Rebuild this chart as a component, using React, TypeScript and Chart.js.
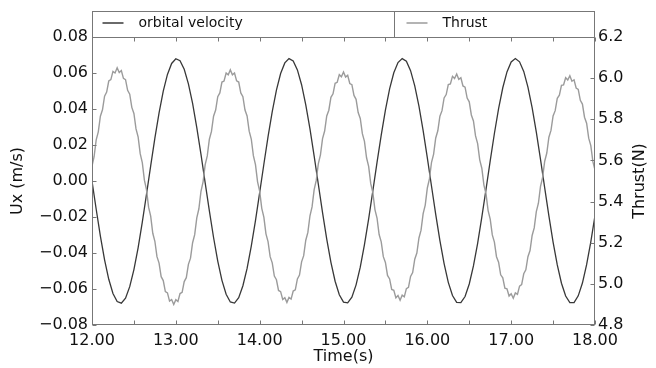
import React, { useEffect, useRef } from 'react';
import { Chart, registerables } from 'chart.js';

Chart.register(...registerables);

// ---- data ----
const T_START = 12;
const VELOCITY_STEP = 0.05; // s between orbital velocity samples
const THRUST_STEP = 0.025; // s between thrust samples

const seriesNames = ['orbital velocity', 'Thrust'];
const axisTitles = { x: 'Time(s)', y: 'Ux (m/s)', y2: 'Thrust(N)' };

const orbitalVelocity = [
  0, -0.0157, -0.0306, -0.0438, -0.0546, -0.0625, -0.067, -0.0679, -0.0651, -0.0587,
  -0.0492, -0.0371, -0.0229, -0.0074, 0.0084, 0.0238, 0.0378, 0.0499, 0.0592, 0.0653,
  0.0679, 0.0668, 0.0621, 0.054, 0.0431, 0.0297, 0.0148, -0.001, -0.0166, -0.0314,
  -0.0445, -0.0552, -0.0629, -0.0672, -0.0678, -0.0648, -0.0582, -0.0486, -0.0362, -0.022,
  -0.0065, 0.0093, 0.0246, 0.0386, 0.0505, 0.0597, 0.0656, 0.068, 0.0667, 0.0617,
  0.0535, 0.0423, 0.0289, 0.0138, -0.0019, -0.0176, -0.0323, -0.0452, -0.0557, -0.0632,
  -0.0673, -0.0677, -0.0645, -0.0577, -0.0479, -0.0354, -0.021, -0.0055, 0.0103, 0.0255,
  0.0394, 0.0512, 0.0601, 0.0658, 0.068, 0.0665, 0.0613, 0.0529, 0.0416, 0.028,
  0.0129, -0.0029, -0.0185, -0.0331, -0.0459, -0.0563, -0.0636, -0.0674, -0.0676, -0.0642,
  -0.0572, -0.0472, -0.0346, -0.0201, -0.0046, 0.0112, 0.0264, 0.0402, 0.0518, 0.0606,
  0.0661, 0.068, 0.0662, 0.0609, 0.0522, 0.0408, 0.0271, 0.012, -0.0038, -0.0194,
  -0.0339, -0.0466, -0.0568, -0.0639, -0.0676, -0.0675, -0.0638, -0.0567, -0.0465, -0.0338,
  -0.0192,
];

const thrust = [
  5.573, 5.618, 5.7, 5.739, 5.815, 5.846, 5.912, 5.932, 5.986, 5.993,
  6.033, 6.025, 6.05, 6.027, 6.037, 5.999, 5.993, 5.941, 5.922, 5.858,
  5.828, 5.753, 5.715, 5.633, 5.589, 5.504, 5.458, 5.373, 5.329, 5.246,
  5.207, 5.132, 5.101, 5.035, 5.016, 4.962, 4.956, 4.916, 4.924, 4.9,
  4.923, 4.914, 4.953, 4.959, 5.011, 5.03, 5.095, 5.125, 5.2, 5.239,
  5.321, 5.365, 5.45, 5.496, 5.58, 5.622, 5.703, 5.741, 5.815, 5.845,
  5.91, 5.928, 5.981, 5.986, 6.025, 6.016, 6.04, 6.016, 6.025, 5.987,
  5.981, 5.928, 5.91, 5.845, 5.816, 5.742, 5.704, 5.623, 5.58, 5.496,
  5.451, 5.367, 5.324, 5.243, 5.205, 5.132, 5.102, 5.038, 5.02, 4.968,
  4.962, 4.924, 4.933, 4.91, 4.934, 4.926, 4.965, 4.971, 5.024, 5.043,
  5.107, 5.137, 5.212, 5.25, 5.331, 5.374, 5.458, 5.503, 5.585, 5.627,
  5.706, 5.743, 5.816, 5.844, 5.907, 5.924, 5.975, 5.98, 6.017, 6.007,
  6.03, 6.005, 6.014, 5.974, 5.968, 5.916, 5.897, 5.833, 5.804, 5.73,
  5.693, 5.613, 5.571, 5.487, 5.444, 5.361, 5.32, 5.24, 5.204, 5.132,
  5.104, 5.041, 5.024, 4.973, 4.969, 4.932, 4.943, 4.92, 4.945, 4.937,
  4.977, 4.983, 5.036, 5.055, 5.12, 5.15, 5.223, 5.261, 5.341, 5.383,
  5.466, 5.51, 5.591, 5.631, 5.709, 5.744, 5.815, 5.842, 5.904, 5.92,
  5.969, 5.972, 6.009, 5.998, 6.02, 5.994, 6.002, 5.962, 5.956, 5.903,
  5.885, 5.821, 5.792, 5.719, 5.682, 5.603, 5.562, 5.48, 5.437, 5.356,
  5.315, 5.238, 5.203, 5.132, 5.105, 5.044, 5.029, 4.979, 4.976, 4.941,
  4.952, 4.93, 4.956, 4.949, 4.989, 4.996, 5.049, 5.068, 5.132, 5.162,
  5.235, 5.272, 5.351, 5.392, 5.474, 5.517, 5.596, 5.636, 5.713, 5.746,
  5.816, 5.842, 5.902, 5.917, 5.965, 5.967, 6.002, 5.991, 6.012, 5.985,
  5.992, 5.952, 5.945, 5.892, 5.874, 5.81, 5.781, 5.708, 5.672, 5.594,
  5.553,
];

const X_RANGE = [12, 18];
const UX_RANGE = [-0.08, 0.08];
const THRUST_RANGE = [4.8, 6.2];

// ---- style ----
const FONT = "'DejaVu Sans', 'Liberation Sans', sans-serif";
const VEL_COLOR = '#383838';
const THRUST_COLOR = '#9b9b9b';
const FRAME_COLOR = '#777777';
const TEXT_COLOR = '#111111';

const fmtSigned = (v: number, d: number) => {
  const s = Math.abs(v).toFixed(d);
  return v < -1e-9 ? '\u2212' + s : s;
};

const frameTicksPlugin = {
  id: 'frameTicks',
  afterDatasetsDraw(chart: any) {
    const { ctx, chartArea: a, scales } = chart;
    const L = Math.round(a.left) + 0.5;
    const R = Math.round(a.right) - 0.5;
    const T = Math.round(a.top) + 0.5;
    const B = Math.round(a.bottom) - 0.5;
    ctx.save();
    ctx.strokeStyle = FRAME_COLOR;
    ctx.lineWidth = 1;
    ctx.beginPath();
    const xs = scales.x;
    for (let v = X_RANGE[0]; v <= X_RANGE[1] + 1e-9; v += 0.5) {
      const px = Math.round(xs.getPixelForValue(v)) + 0.5;
      ctx.moveTo(px, B);
      ctx.lineTo(px, B - 4);
      ctx.moveTo(px, T);
      ctx.lineTo(px, T + 4);
    }
    scales.y.ticks.forEach((t: any) => {
      const py = Math.round(scales.y.getPixelForValue(t.value)) + 0.5;
      ctx.moveTo(L, py);
      ctx.lineTo(L + 4, py);
    });
    scales.y2.ticks.forEach((t: any) => {
      const py = Math.round(scales.y2.getPixelForValue(t.value)) + 0.5;
      ctx.moveTo(R, py);
      ctx.lineTo(R - 4, py);
    });
    ctx.stroke();
    ctx.strokeRect(L, T, R - L, B - T);
    ctx.restore();
  },
};

// right-hand axis title, reading bottom-to-top like the left one
const rightTitlePlugin = {
  id: 'rightTitle',
  afterDraw(chart: any) {
    const { ctx, chartArea: a, width } = chart;
    ctx.save();
    ctx.translate(width - 16, (a.top + a.bottom) / 2);
    ctx.rotate(-Math.PI / 2);
    ctx.font = `16px ${FONT}`;
    ctx.fillStyle = TEXT_COLOR;
    ctx.textAlign = 'center';
    ctx.textBaseline = 'middle';
    ctx.fillText(axisTitles.y2, 0, 0);
    ctx.restore();
  },
};

const legendPlugin = {
  id: 'boxLegend',
  afterDraw(chart: any) {
    const { ctx, chartArea: a } = chart;
    const top = 11.5;
    const bottom = Math.round(a.top) + 0.5;
    const L = Math.round(a.left) + 0.5;
    const R = Math.round(a.right) - 0.5;
    const divider = Math.round(a.left + 302) + 0.5;
    const midY = (top + bottom) / 2 - 1.5;
    ctx.save();
    ctx.strokeStyle = FRAME_COLOR;
    ctx.lineWidth = 1;
    ctx.strokeRect(L, top, R - L, bottom - top);
    ctx.beginPath();
    ctx.moveTo(divider, top);
    ctx.lineTo(divider, bottom);
    ctx.stroke();
    const entries = [
      { x: L + 10, color: VEL_COLOR, text: seriesNames[0] },
      { x: divider + 12, color: THRUST_COLOR, text: seriesNames[1] },
    ];
    ctx.font = `14px ${FONT}`;
    ctx.textBaseline = 'middle';
    ctx.textAlign = 'left';
    entries.forEach((e) => {
      ctx.strokeStyle = e.color;
      ctx.lineWidth = 1.5;
      ctx.beginPath();
      ctx.moveTo(e.x, midY);
      ctx.lineTo(e.x + 21, midY);
      ctx.stroke();
      ctx.fillStyle = TEXT_COLOR;
      ctx.fillText(e.text, e.x + 36, midY);
    });
    ctx.restore();
  },
};

export default function App() {
  const canvasRef = useRef<HTMLCanvasElement | null>(null);

  useEffect(() => {
    const canvas = canvasRef.current;
    if (!canvas) return;
    Chart.defaults.font.family = FONT;
    const velData = orbitalVelocity.map((v, i) => ({ x: T_START + i * VELOCITY_STEP, y: v }));
    const thrustData = thrust.map((v, i) => ({ x: T_START + i * THRUST_STEP, y: v }));
    const tickFont = { family: FONT, size: 16 };
    const chart = new Chart(canvas, {
      type: 'line',
      data: {
        datasets: [
          {
            label: seriesNames[1],
            data: thrustData,
            yAxisID: 'y2',
            borderColor: THRUST_COLOR,
            borderWidth: 1.4,
            pointRadius: 0,
            tension: 0,
          },
          {
            label: seriesNames[0],
            data: velData,
            yAxisID: 'y',
            borderColor: VEL_COLOR,
            borderWidth: 1.3,
            pointRadius: 0,
            tension: 0,
          },
        ],
      },
      options: {
        responsive: false,
        animation: false,
        events: [],
        layout: { padding: { top: 37, left: 0, right: 0, bottom: 0 } },
        plugins: { legend: { display: false }, tooltip: { enabled: false } },
        scales: {
          x: {
            type: 'linear',
            position: 'bottom',
            min: X_RANGE[0],
            max: X_RANGE[1],
            grid: { display: false, drawTicks: false },
            border: { display: false },
            ticks: {
              stepSize: 1,
              autoSkip: false,
              maxRotation: 0,
              padding: 6,
              color: TEXT_COLOR,
              font: tickFont,
              callback: (v: any) => Number(v).toFixed(2),
            },
            title: {
              display: true,
              text: axisTitles.x,
              color: TEXT_COLOR,
              font: tickFont,
              padding: { top: 0, bottom: 2 },
            },
            afterFit: (s: any) => {
              s.height = 43;
            },
          },
          y: {
            type: 'linear',
            position: 'left',
            min: UX_RANGE[0],
            max: UX_RANGE[1],
            grid: { display: false, drawTicks: false },
            border: { display: false },
            ticks: {
              stepSize: 0.02,
              padding: 4,
              color: TEXT_COLOR,
              font: tickFont,
              callback: (v: any) => fmtSigned(Number(v), 2),
            },
            title: {
              display: true,
              text: axisTitles.y,
              color: TEXT_COLOR,
              font: tickFont,
              padding: { top: 8, bottom: 0 },
            },
            afterFit: (s: any) => {
              s.width = 92;
            },
          },
          y2: {
            type: 'linear',
            position: 'right',
            min: THRUST_RANGE[0],
            max: THRUST_RANGE[1],
            grid: { display: false, drawTicks: false, drawOnChartArea: false },
            border: { display: false },
            ticks: {
              stepSize: 0.2,
              padding: 3,
              color: TEXT_COLOR,
              font: tickFont,
              callback: (v: any) => Number(v).toFixed(1),
            },
            title: { display: false },
            afterFit: (s: any) => {
              s.width = 61;
            },
          },
        },
      },
      plugins: [frameTicksPlugin, legendPlugin, rightTitlePlugin],
    });
    return () => chart.destroy();
  }, []);

  return (
    <div style={{ position: 'absolute', left: 0, top: 0, width: 656, height: 368, background: '#fff' }}>
      <canvas ref={canvasRef} width={656} height={368} style={{ display: 'block' }} />
    </div>
  );
}
